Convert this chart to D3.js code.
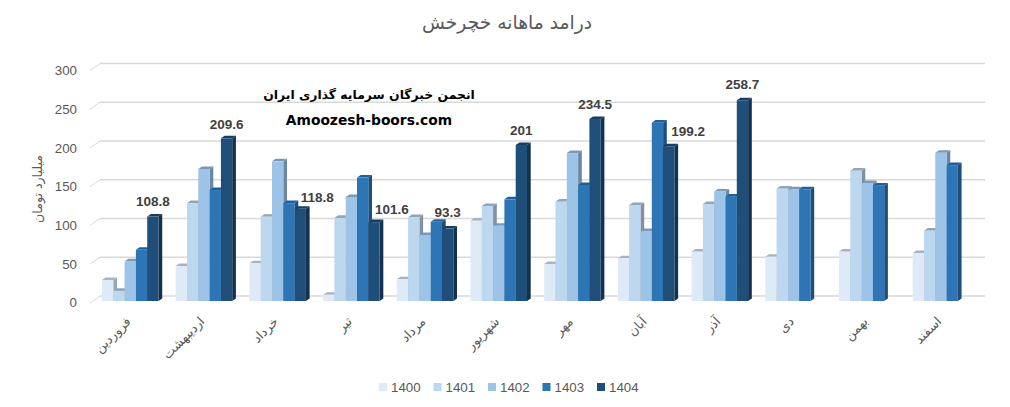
<!DOCTYPE html>
<html><head><meta charset="utf-8">
<script src="https://d3js.org/d3.v7.min.js"></script>
<style>html,body{margin:0;padding:0;background:#fff}svg{display:block}</style>
</head><body><svg id="c" width="1010" height="407"></svg>
<script>
const months=["فروردین","اردیبهشت","خرداد","تیر","مرداد","شهریور","مهر","آبان","آذر","دی","بهمن","اسفند"];
const seriesNames=["1400","1401","1402","1403","1404"];
const v1400=[27,45,48.5,8,28,103.5,47.7,55,63.6,57,63.6,61.6];
const v1401=[13,126,108.6,107,108,122.4,128,123.7,125,144.7,168,90.6];
const v1402=[51,170,180,134,85,97,190.6,90,141,144,152,191];
const v1403=[66,143,126,159,102,131,149.5,229.8,134.5,144,148.6,175];
const v1404=[108.8,209.6,118.8,101.6,93.3,201,234.5,199.2,258.7,null,null,null];
const yTicks=[0,50,100,150,200,250,300];
const allSeries=[v1400,v1401,v1402,v1403,v1404];
const frontColors=["#deeaf7","#bdd7ee","#9dc3e6","#2e75b6","#1f4e79"];
const topColors=["#a7b3bf","#93a6b8","#7b98b5","#1f5f9a","#173d60"];
const sideColors=["#99a5b0","#7f91a3","#6c87a3","#1f4e7a","#14324f"];
const titleText="درامد ماهانه خچرخش", axisTitle="میلیارد تومان";
const wm1="انجمن خبرگان سرمایه گذاری ایران", wm2="Amoozesh-boors.com";

const svg=d3.select("#c");
const latin="'Liberation Sans',Arial,sans-serif", arabic="'DejaVu Sans',sans-serif";
const yFront=d3.scaleLinear().domain([0,300]).range([301,68.2]);
const yWall=d3.scaleLinear().domain([0,300]).range([296,63.5]);
const yLabel=d3.scaleLinear().domain([0,300]).range([302.5,70.5]);
const x0=d3.scaleBand().domain(months).range([102,969.2]).paddingInner(0.233).paddingOuter(0);
const x1=d3.scaleBand().domain(seriesNames).range([0,x0.bandwidth()]);
const DX=3.7,DY=2.6;

// walls
const grid=svg.append("g");
yTicks.forEach(t=>{
  grid.append("line").attr("x1",100).attr("x2",985).attr("y1",yWall(t)).attr("y2",yWall(t))
    .attr("stroke","#d9d9d9").attr("stroke-width",1.6);
  grid.append("line").attr("x1",90).attr("x2",100).attr("y1",yWall(t)+7).attr("y2",yWall(t))
    .attr("stroke","#d9d9d9").attr("stroke-width",1);
});
// y axis labels
const ax=svg.append("g").attr("transform","translate(77,0)")
  .call(d3.axisLeft(yLabel).tickValues(yTicks).tickSize(0).tickPadding(0));
ax.select(".domain").remove();
ax.selectAll("text").attr("font-family",latin).attr("font-size",13.3).attr("fill","#595959");

// bars
months.forEach((m,i)=>{
  const g=svg.append("g");
  seriesNames.forEach((s,k)=>{
    const val=allSeries[k][i]; if(val==null) return;
    const x=x0(m)+x1(s), w=x1.bandwidth(), yt=yFront(val), yb=yFront(0);
    g.append("path").attr("d",`M${x+w},${yb}L${x+w+DX},${yb-DY}L${x+w+DX},${yt-DY}L${x+w},${yt}Z`).attr("fill",sideColors[k]);
    g.append("path").attr("d",`M${x},${yt}L${x+DX},${yt-DY}L${x+w+DX},${yt-DY}L${x+w},${yt}Z`).attr("fill",topColors[k]);
    g.append("rect").attr("x",x).attr("y",yt).attr("width",w).attr("height",yb-yt).attr("fill",frontColors[k]);
  });
});

// data labels on series 1404 (horizontal nudge where Excel moved them off the bar)
const nudgeX=[0,0,17,18,0,0,0,19.5,0], nudgeY=[-15.5,-14.5,-12,-13,-16,-15,-15,-15.5,-16];
v1404.forEach((val,i)=>{
  if(val==null) return;
  svg.append("text").text(val)
    .attr("x",x0(months[i])+x1("1404")+x1.bandwidth()/2+nudgeX[i])
    .attr("y",yFront(val)+nudgeY[i]).attr("dy","0.35em")
    .attr("text-anchor","middle").attr("font-family",latin).attr("font-weight","bold")
    .attr("font-size",13.5).attr("fill","#404040").text(val);
});

// month labels
months.forEach(m=>{
  svg.append("text").text(m)
    .attr("transform",`translate(${x0(m)+x0.bandwidth()/2-5},316) rotate(-45)`)
    .attr("text-anchor","end").attr("dy","0.7em").attr("font-family",arabic)
    .attr("font-size",12.8).attr("fill","#595959");
});

// title
svg.append("text").text(titleText).attr("x",507).attr("y",29).attr("text-anchor","middle")
  .attr("font-family",arabic).attr("font-size",18.7).attr("fill","#595959");
svg.append("text").text(axisTitle).attr("transform","translate(42,189) rotate(-90)")
  .attr("text-anchor","middle").attr("font-family",arabic).attr("font-size",12.6).attr("fill","#595959");
svg.append("text").text(wm1).attr("x",369).attr("y",99).attr("text-anchor","middle")
  .attr("font-family",arabic).attr("font-weight","bold").attr("font-size",12.4).attr("fill","#000");
svg.append("text").text(wm2).attr("x",369).attr("y",125).attr("text-anchor","middle")
  .attr("font-family","'DejaVu Sans',sans-serif").attr("font-weight","bold").attr("font-size",13.8).attr("fill","#000");

// legend
const lx=d3.scalePoint().domain(seriesNames).range([379,597]);
seriesNames.forEach((s,k)=>{
  svg.append("rect").attr("x",lx(s)).attr("y",383).attr("width",8).attr("height",8).attr("fill",frontColors[k]);
  svg.append("text").text(s).attr("x",lx(s)+12).attr("y",391.5).attr("font-family",latin)
    .attr("font-size",13.3).attr("fill","#595959");
});
</script></body></html>
